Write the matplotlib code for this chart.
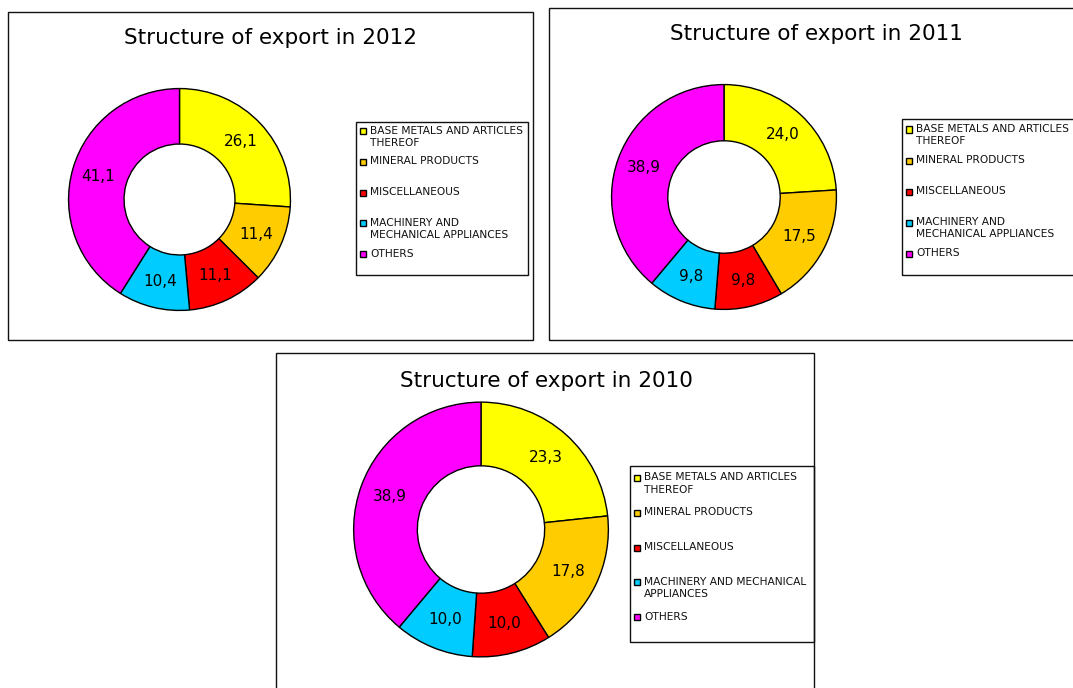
import matplotlib
matplotlib.use("Agg")
import matplotlib.pyplot as plt
from matplotlib.patches import Rectangle
from matplotlib.transforms import Bbox

# Export structure by commodity group, % of total
categories = ["BASE METALS AND ARTICLES THEREOF", "MINERAL PRODUCTS",
              "MISCELLANEOUS", "MACHINERY AND MECHANICAL APPLIANCES", "OTHERS"]
colors = ["#FFFF00", "#FFCC00", "#FF0000", "#00CCFF", "#FF00FF"]

years = ["2012", "2011", "2010"]
values_2012 = [26.1, 11.4, 11.1, 10.4, 41.1]
values_2011 = [24.0, 17.5, 9.8, 9.8, 38.9]
values_2010 = [23.3, 17.8, 10.0, 10.0, 38.9]

legend_2012 = ["BASE METALS AND ARTICLES\nTHEREOF", "MINERAL PRODUCTS",
               "MISCELLANEOUS", "MACHINERY AND\nMECHANICAL APPLIANCES", "OTHERS"]
legend_2011 = legend_2012
legend_2010 = ["BASE METALS AND ARTICLES\nTHEREOF", "MINERAL PRODUCTS",
               "MISCELLANEOUS", "MACHINERY AND MECHANICAL\nAPPLIANCES", "OTHERS"]

W, H = 1073, 688
fig = plt.figure(figsize=(W / 100, H / 100), dpi=100)
plt.rcParams["font.family"] = ["DejaVu Sans"]


def fx(x):
    return x / W


def fy(y):
    return 1 - y / H


# layout of each panel in pixels
panels = [
    dict(values=values_2012, legend=legend_2012, year=years[0],
         box=(8, 12, 533, 340), center=(179.5, 199.5), R=111.5,
         title_xy=(271, 38), leg_box=(356, 122, 528, 275), leg_step=30.8, leg_first=131),
    dict(values=values_2011, legend=legend_2011, year=years[1],
         box=(549, 8, 1090, 340), center=(724, 197), R=113,
         title_xy=(816, 34), leg_box=(902, 119, 1090, 275), leg_step=31, leg_first=129.5),
    dict(values=values_2010, legend=legend_2010, year=years[2],
         box=(276, 353, 814, 700), center=(481, 529.5), R=128,
         title_xy=(546, 381), leg_box=(630, 466, 814, 642), leg_step=34.8, leg_first=478),
]

for p in panels:
    x0, y0, x1, y1 = p["box"]
    fig.patches.append(Rectangle((fx(x0), fy(y1)), fx(x1) - fx(x0), fy(y0) - fy(y1),
                                 transform=fig.transFigure, fill=False,
                                 edgecolor="#111111", linewidth=1.0))
    fig.text(fx(p["title_xy"][0]), fy(p["title_xy"][1]),
             f"Structure of export in {p['year']}",
             ha="center", va="center", fontsize=15.5, color="black")

    cx, cy = p["center"]
    R = p["R"]
    ax = fig.add_axes([fx(cx - R), fy(cy + R), fx(2 * R), 2 * R / H])
    labels = [f"{v:.1f}".replace(".", ",") for v in p["values"]]
    wedges, texts = ax.pie(p["values"], colors=colors, startangle=90, counterclock=False,
                           labels=labels, labeldistance=0.76,
                           wedgeprops=dict(width=0.5, edgecolor="black", linewidth=1.0),
                           textprops=dict(fontsize=11, ha="center", va="center"))
    for t in texts:
        t.set_horizontalalignment("center")
        t.set_verticalalignment("center")
    ax.set_xlim(-1.005, 1.005)
    ax.set_ylim(-1.005, 1.005)
    ax.set_aspect("equal")
    ax.axis("off")

    lx0, ly0, lx1, ly1 = p["leg_box"]
    fig.patches.append(Rectangle((fx(lx0), fy(ly1)), fx(lx1) - fx(lx0), fy(ly0) - fy(ly1),
                                 transform=fig.transFigure, fill=False,
                                 edgecolor="#111111", linewidth=1.0))
    for i, (lab, col) in enumerate(zip(p["legend"], colors)):
        yy = p["leg_first"] + i * p["leg_step"]
        fig.patches.append(Rectangle((fx(lx0 + 4), fy(yy + 3)), fx(6), 6 / H,
                                     transform=fig.transFigure, facecolor=col,
                                     edgecolor="black", linewidth=1.0))
        t = fig.text(fx(lx0 + 14), fy(yy - 5.5), lab, ha="left", va="top",
                     fontsize=7.7, linespacing=1.3, color="#111111")
        if p["year"] == "2010":
            t.set_clip_box(Bbox.from_extents(0, 0, lx1, H))
            t.set_clip_on(True)

fig.savefig("out.png", dpi=100, facecolor="white")
